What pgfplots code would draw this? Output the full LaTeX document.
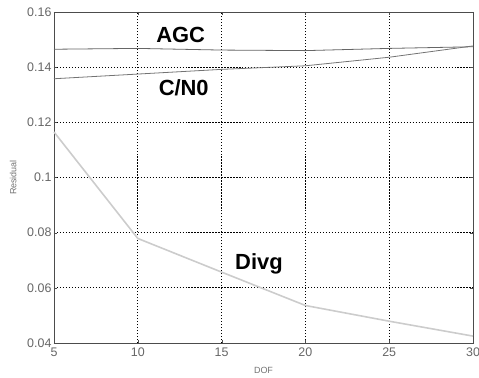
\documentclass[border=0pt]{standalone}
\usepackage{pgfplots}
\pgfplotsset{compat=1.18}
\usepackage{fontspec}
\setmainfont{Liberation Sans}
\begin{document}
\begin{tikzpicture}
\begin{axis}[
  scale only axis,
  width=419bp, height=331bp,
  xmin=5, xmax=30, ymin=0.04, ymax=0.16,
  xtick={5,10,...,30},
  ytick={0.04,0.06,...,0.161},
  yticklabel style={/pgf/number format/fixed,/pgf/number format/precision=2, xshift=1bp},
  /pgf/number format/assume math mode=true,
  tick label style={font=\fontsize{12.5}{13}\selectfont, text=black!60},
  xticklabel style={yshift=-1bp},
  grid=major,
  major grid style={black, dash pattern=on 1.2pt off 1.8pt, line width=0.8pt},
  axis line style={black!70, line width=0.9pt},
  tick style={black!70},
  major tick length=3bp,
  xlabel={DOF}, ylabel={Residual},
  label style={font=\fontsize{9}{10}\selectfont, text=black!55},
  xlabel style={yshift=-4bp},
  ylabel style={yshift=4bp},
  clip=false,
]
\addplot[black!60, line width=0.8pt] coordinates {(5,0.1465) (10,0.1468) (15,0.1462) (20,0.1460) (25,0.1468) (30,0.1474)};
\addplot[black!55, line width=0.8pt] coordinates {(5,0.1358) (10,0.1375) (15,0.1392) (20,0.1405) (25,0.1436) (30,0.1477)};
\addplot[black!20, line width=1.6pt] coordinates {(5,0.1165) (10,0.0779) (15,0.0657) (20,0.0536) (25,0.0479) (30,0.0425)};
\node[font=\fontsize{22}{24}\selectfont\bfseries] at (axis cs:12.56,0.1517) {AGC};
\node[font=\fontsize{22}{24}\selectfont\bfseries] at (axis cs:12.74,0.1327) {C/N0};
\node[font=\fontsize{22}{24}\selectfont\bfseries] at (axis cs:17.23,0.0688) {Divg};
\end{axis}
\pgfresetboundingbox
\path[use as bounding box] ([shift={(-54bp,-35bp)}]current axis.south west) rectangle ([shift={(6bp,12bp)}]current axis.north east);
\end{tikzpicture}
\end{document}
